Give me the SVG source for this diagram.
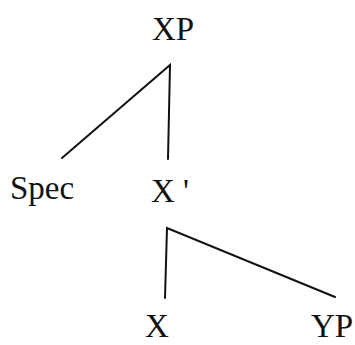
<svg xmlns="http://www.w3.org/2000/svg" width="355" height="345" viewBox="0 0 355 345">
<style>
.lbl{font-family:"Liberation Serif","Times New Roman",serif;font-size:33px;fill:#111}
.edge{stroke:#111;stroke-width:2;fill:none;stroke-linecap:round;stroke-linejoin:miter}
</style>
<rect width="355" height="345" fill="#fff"/>
<g id="edges">
<polyline class="edge" points="62,158 170,65 168,159"/>
<polyline class="edge" points="165,298 167,228 335,297"/>
</g>
<g id="XP"><text class="lbl" x="152" y="40">XP</text></g>
<g id="Spec"><text class="lbl" x="10" y="199">Spec</text></g>
<g id="Xbar"><text class="lbl" x="151" y="202" xml:space="preserve">X '</text></g>
<g id="X"><text class="lbl" x="145" y="337">X</text></g>
<g id="YP"><text class="lbl" x="311" y="337">YP</text></g>
</svg>
